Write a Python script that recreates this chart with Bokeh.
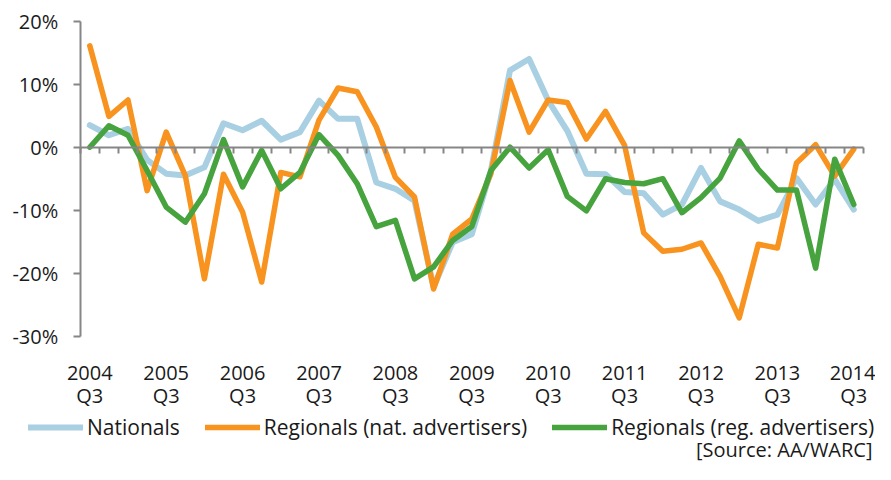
from bokeh.plotting import figure
from bokeh.models import (LinearAxis, FixedTicker, Range1d, Legend, LegendItem, Label)
from bokeh.embed import file_html
from bokeh.resources import INLINE

# ---- data (year-on-year % change, quarterly, 2004 Q3 .. 2014 Q3) ----
years = ["2004", "2005", "2006", "2007", "2008", "2009", "2010", "2011", "2012", "2013", "2014"]
quarter_label = "Q3"
quarters = list(range(41))

nationals = [3.5, 1.9, 2.9, -2.0, -4.2, -4.5, -3.2, 3.8, 2.7, 4.2,
             1.2, 2.4, 7.4, 4.5, 4.5, -5.6, -6.6, -8.5, -22.2, -15.1,
             -13.8, -3.7, 12.2, 14.0, 7.4, 2.6, -4.2, -4.3, -7.1, -7.3,
             -10.7, -9.1, -3.3, -8.6, -9.9, -11.7, -10.7, -4.9, -9.1, -5.1, -9.9]
regionals_nat = [16.1, 4.9, 7.5, -6.9, 2.4, -4.5, -20.9, -4.3, -10.3, -21.4,
                 -4.0, -4.7, 4.3, 9.4, 8.8, 3.2, -4.8, -7.9, -22.5, -13.8,
                 -11.4, -4.2, 10.6, 2.4, 7.5, 7.1, 1.3, 5.7, 0.3, -13.6,
                 -16.5, -16.2, -15.2, -20.5, -27.1, -15.4, -16.0, -2.5, 0.4, -4.6, -0.3]
regionals_reg = [0.0, 3.4, 1.9, -3.7, -9.5, -11.9, -7.4, 1.2, -6.3, -0.5,
                 -6.6, -4.0, 2.0, -1.3, -5.8, -12.6, -11.6, -20.9, -19.0, -14.8,
                 -12.6, -3.7, 0.0, -3.3, -0.4, -7.8, -10.1, -5.0, -5.6, -5.8,
                 -5.0, -10.4, -8.0, -4.9, 1.0, -3.5, -6.8, -6.8, -19.2, -1.9, -9.1]
series_names = ["Nationals", "Regionals (nat. advertisers)", "Regionals (reg. advertisers)"]
y_ticks = [-30, -20, -10, 0, 10, 20]
source_text = "[Source: AA/WARC]"

FONT = "Open Sans"
FS = "20px"
TXT = "#1a1a1a"
AXIS = "#868686"

W, H = 875, 464
# frame spans the whole canvas; the axes are placed at fixed data locations
p = figure(width=W, height=H, output_backend="svg", toolbar_location=None,
           x_range=Range1d(-4.675, 41.136), y_range=Range1d(-50.37, 23.29),
           x_axis_location=None, y_axis_location=None,
           min_border_left=0, min_border_right=0, min_border_top=0, min_border_bottom=0)
p.outline_line_color = None
p.grid.visible = False

# y axis at the left edge of the category range
ya = LinearAxis(fixed_location=-0.5, bounds=(-30, 20),
                ticker=FixedTicker(ticks=y_ticks),
                major_label_overrides={t: f"{t}%" for t in y_ticks},
                major_tick_out=7, major_tick_in=0, minor_tick_line_color=None,
                axis_line_color=AXIS, axis_line_width=2,
                major_tick_line_color=AXIS, major_tick_line_width=2,
                major_label_text_font=FONT, major_label_text_font_size=FS,
                major_label_text_color=TXT, major_label_standoff=15)
p.add_layout(ya, "left")

# zero axis with category ticks
za = LinearAxis(fixed_location=0, bounds=(-0.5, 40.5),
                ticker=FixedTicker(ticks=[i + 0.5 for i in range(-1, 41)]),
                major_tick_out=6, major_tick_in=0,
                minor_tick_line_color=None,
                axis_line_color=AXIS, axis_line_width=2,
                major_tick_line_color=AXIS, major_tick_line_width=2,
                major_label_text_alpha=0, major_label_text_font_size="1px")
p.add_layout(za, "below")

# label axes (year line, quarter line) anchored at the bottom of the value range
lab_ticks = [4 * i for i in range(len(years))]
common = dict(fixed_location=-30, axis_line_color=None, major_tick_line_color=None,
              minor_tick_line_color=None, major_tick_out=0, major_tick_in=0,
              major_label_text_font=FONT, major_label_text_font_size=FS,
              major_label_text_color=TXT)
la_year = LinearAxis(ticker=FixedTicker(ticks=lab_ticks),
                     major_label_overrides={t: y for t, y in zip(lab_ticks, years)},
                     major_label_standoff=30, **common)
la_q = LinearAxis(ticker=FixedTicker(ticks=lab_ticks),
                  major_label_overrides={t: quarter_label for t in lab_ticks},
                  major_label_standoff=46, **common)
p.add_layout(la_year, "below")
p.add_layout(la_q, "below")

colors = ["#A9CFE2", "#F7931E", "#46A33E"]
widths = [6, 5.5, 5.5]
rs = []
for data, c, w in zip([nationals, regionals_nat, regionals_reg], colors, widths):
    r = p.line(quarters, data, line_color=c, line_width=w, line_join="round", line_cap="round")
    rs.append(r)

legend = Legend(items=[LegendItem(label=n, renderers=[r]) for n, r in zip(series_names, rs)],
                orientation="horizontal", location=(28, 23),
                label_text_font=FONT, label_text_font_size="21px", label_text_color=TXT,
                glyph_width=55, glyph_height=20, label_standoff=4, spacing=25,
                padding=0, margin=0, border_line_color=None, background_fill_alpha=0)
p.add_layout(legend, "center")

src = Label(x=W - 3, y=15, x_units="screen", y_units="screen", text=source_text,
            text_align="right", text_baseline="middle",
            text_font=FONT, text_font_size="20px", text_color=TXT)
p.add_layout(src)

open("out.html", "w").write(file_html(p, INLINE))
